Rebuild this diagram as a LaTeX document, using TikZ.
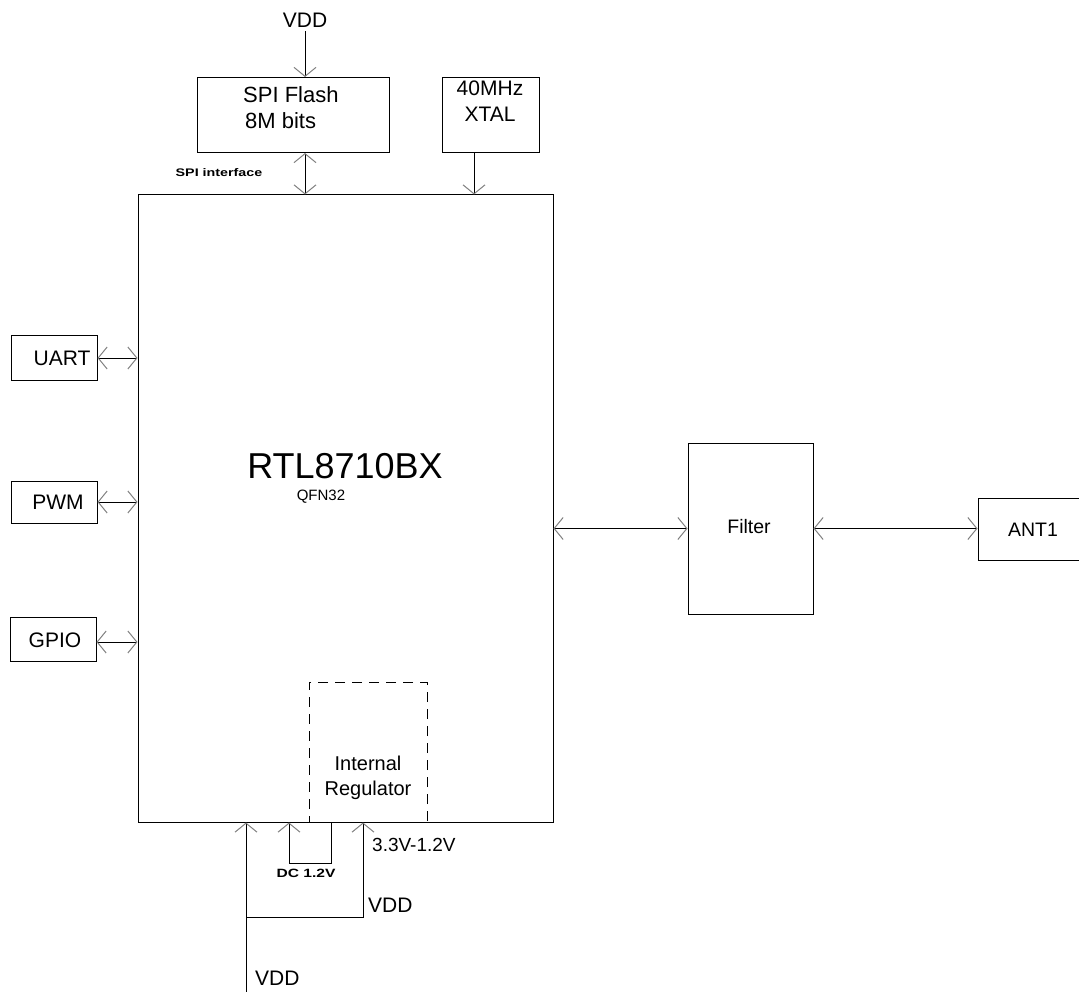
\documentclass[tikz,border=0pt]{standalone}
\usepackage{fontspec}
\setmainfont{Liberation Sans}
\usetikzlibrary{arrows.meta}
\begin{document}
\begin{tikzpicture}[x=1pt,y=-1pt,
  box/.style={draw,line width=1pt,rectangle,inner sep=0pt},
  lbl/.style={inner sep=0pt,font=\fontsize{21}{24}\selectfont},
  conn/.style={line width=1pt,black},
  uni/.style={conn,-{Straight Barb[length=9pt,width=22pt,line width=1pt,color=gray]}},
  bi/.style={conn,{Straight Barb[length=9pt,width=22pt,line width=1pt,color=gray]}-{Straight Barb[length=9pt,width=22pt,line width=1pt,color=gray]}}]
\useasboundingbox (0,0) rectangle (1079,992);
% main chip
\node[box,minimum width=415pt,minimum height=627pt] (chip) at (345.5,508.5) {};
\node[lbl,font=\fontsize{36}{40}\selectfont] (name) at (345,466) {RTL8710BX};
\node[lbl,font=\fontsize{15}{18}\selectfont] (pkg) at (321,497) {QFN32};
% regulator
\node[draw,line width=1pt,dash pattern=on 10pt off 7pt,minimum width=118pt,minimum height=140pt,inner sep=0pt] (reg) at (368,752) {};
\node[lbl,font=\fontsize{20}{25}\selectfont,align=center] (regt) at (368,778) {Internal\\Regulator};
% top blocks
\node[box,minimum width=192pt,minimum height=75pt] (spi) at (293,115) {};
\node[lbl,font=\fontsize{22}{26}\selectfont,align=left,anchor=north west] (spit) at (243,86) {SPI Flash\\\hspace*{2pt}8M bits};
\node[box,minimum width=97pt,minimum height=75pt] (xtal) at (490.5,115) {};
\node[lbl,font=\fontsize{21}{26}\selectfont,align=center] (xtalt) at (490,101) {40MHz\\XTAL};
\node[lbl] (vddt) at (305,20) {VDD};
\node[lbl,font=\bfseries\fontsize{11}{12}\selectfont] (spiif) at (219,173) {\scalebox{1.3}[1]{SPI interface}};
% left blocks
\node[box,minimum width=86pt,minimum height=44pt] (uart) at (54,358) {};
\node[lbl] at (62,358) {UART};
\node[box,minimum width=86pt,minimum height=42pt] (pwm) at (54,502) {};
\node[lbl] at (58,502) {PWM};
\node[box,minimum width=86pt,minimum height=44pt] (gpio) at (53,639) {};
\node[lbl] at (55,640) {GPIO};
% right blocks
\node[box,minimum width=125pt,minimum height=171pt] (filter) at (750.5,528.5) {};
\node[lbl,font=\fontsize{19.5}{22}\selectfont] at (749,527) {Filter};
\node[box,minimum width=110pt,minimum height=62pt] (ant) at (1033,529) {};
\node[lbl,font=\fontsize{19.5}{22}\selectfont] at (1033,530) {ANT1};
% bottom labels
\node[lbl,font=\fontsize{19}{22}\selectfont,anchor=west] (v33) at (372,845) {3.3V-1.2V};
\node[lbl,font=\bfseries\fontsize{12}{13}\selectfont] (dc) at (306,873) {\scalebox{1.3}[1]{DC 1.2V}};
\node[lbl,anchor=west] (vdd2) at (368,905) {VDD};
\node[lbl,anchor=west] (vdd3) at (255,978) {VDD};
% connectors top
\draw[uni] (vddt.south) ++(0,4) -- (spi.north -| vddt.south);
\draw[bi] (spi.south -| vddt.south) -- (chip.north -| vddt.south);
\draw[uni] (xtal.south -| 474,0) -- (chip.north -| 474,0);
% left connectors
\draw[bi] (uart.east) -- (uart.east -| chip.west);
\draw[bi] (pwm.east) -- (pwm.east -| chip.west);
\draw[bi] (gpio.east |- 0,642) -- (chip.west |- 0,642);
% right connectors
\draw[bi] (chip.east |- filter.west) -- (filter.west);
\draw[bi] (filter.east) -- (ant.west |- filter.east);
% bottom wiring
\coordinate (vb) at (246,992);
\coordinate (j1) at (246,917);
\coordinate (j2) at (363,917);
\coordinate (d1) at (289,863);
\coordinate (d2) at (331,863);
\draw[uni] (vb) -- (vb |- chip.south);
\draw[uni] (j1) -- (j2) -- (j2 |- chip.south);
\draw[uni] (d2 |- chip.south) -- (d2) -- (d1) -- (d1 |- chip.south);
\end{tikzpicture}
\end{document}
